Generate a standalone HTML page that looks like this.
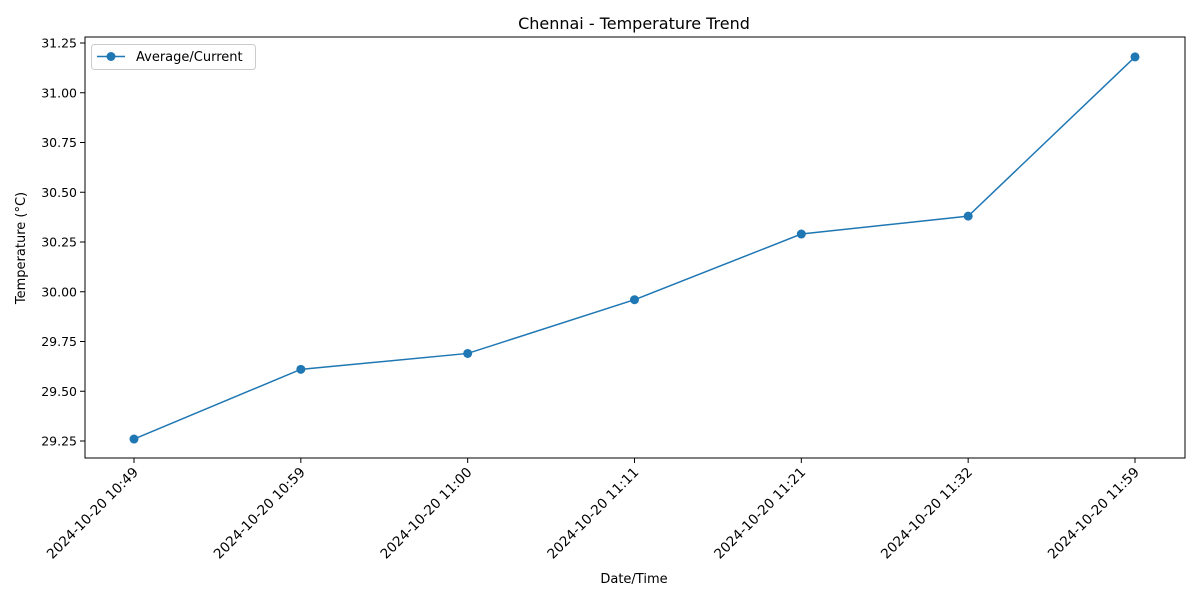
<!DOCTYPE html>
<html><head><meta charset="utf-8">
<style>
html,body{margin:0;padding:0;background:#fff;}
svg{display:block;font-family:"DejaVu Sans","Liberation Sans",sans-serif;}
</style></head>
<body>
<svg id="chart" width="1200" height="600" viewBox="0 0 1200 600">
<rect x="0" y="0" width="1200" height="600" fill="#fff"/>
<text x="634" y="29" font-size="16" text-anchor="middle">Chennai - Temperature Trend</text>
<text x="634" y="583" font-size="13" text-anchor="middle">Date/Time</text>
<text transform="translate(25,248) rotate(-90)" font-size="13" text-anchor="middle">Temperature (°C)</text>
<g id="grid"></g>
<rect x="85" y="37" width="1100" height="421" fill="none" stroke="#000" stroke-width="1"/>
<g>
<rect x="91.5" y="44.5" width="164" height="25" rx="3" fill="#fff" stroke="#ccc"/>
<line x1="97" y1="56.5" x2="125" y2="56.5" stroke="#1f77b4" stroke-width="1.5"/>
<circle cx="111" cy="56.5" r="4.5" fill="#1f77b4"/>
<text x="136" y="61" font-size="13">Average/Current</text>
</g>
</svg>
<script>
const categories = ["2024-10-20 10:49","2024-10-20 10:59","2024-10-20 11:00","2024-10-20 11:11","2024-10-20 11:21","2024-10-20 11:32","2024-10-20 11:59"];
const temps = [29.26, 29.61, 29.69, 29.96, 30.29, 30.38, 31.18];
const yTicks = [29.25, 29.5, 29.75, 30.0, 30.25, 30.5, 30.75, 31.0, 31.25];
const yTickLabels = ["29.25","29.50","29.75","30.00","30.25","30.50","30.75","31.00","31.25"];

const NS = "http://www.w3.org/2000/svg";
const svg = document.getElementById("chart");
const g = document.getElementById("grid");
function xScale(i){ return 134 + i * (1135 - 134) / (categories.length - 1); }
function yScale(v){ return 441 - (v - 29.25) * (441 - 43) / 2.0; }
function mk(tag, attrs, parent){ const e = document.createElementNS(NS, tag); for (const k in attrs) e.setAttribute(k, attrs[k]); (parent||svg).appendChild(e); return e; }

yTicks.forEach((v, i) => {
  const y = yScale(v);
  const t = mk("line", {x1:80, x2:85, y1:y, y2:y, stroke:"#000"}, g);
  
  
  const l = mk("text", {x:77, y:y+4.5, "font-size":12.5, "text-anchor":"end"}, g);
  l.textContent = yTickLabels[i];
  
  
});
categories.forEach((c, i) => {
  const x = xScale(i);
  const t = mk("line", {x1:x, x2:x, y1:458, y2:463, stroke:"#000"}, g);
  
  
  const l = mk("text", {transform:`translate(${x+5},${473}) rotate(-45)`, "font-size":13.6, "text-anchor":"end"}, g);
  l.textContent = c;
  
  
});
const pts = temps.map((v, i) => xScale(i) + "," + yScale(v)).join(" ");
const line = mk("polyline", {points:pts, fill:"none", stroke:"#1f77b4", "stroke-width":1.5});


temps.forEach((v, i) => {
  const c = mk("circle", {cx:xScale(i), cy:yScale(v), r:4.5, fill:"#1f77b4"});
  
  
});
</script>
</body></html>
